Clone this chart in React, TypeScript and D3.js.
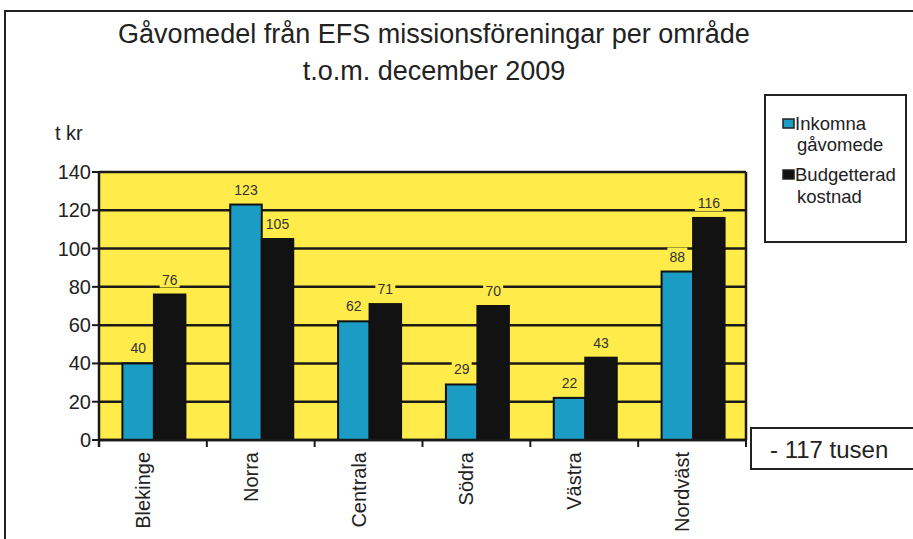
import React from "react";
import * as d3 from "d3";

const categories = ["Blekinge", "Norra", "Centrala", "Södra", "Västra", "Nordväst"];
const inkomna = [40, 123, 62, 29, 22, 88];
const budget = [76, 105, 71, 70, 43, 116];
const yTicks = [0, 20, 40, 60, 80, 100, 120, 140];

const W = 913;
const H = 539;
const plot = { left: 99, right: 746, top: 172, bottom: 440 };
const FONT = "'Liberation Sans', Arial, sans-serif";
const BLUE = "#1b9cc4";
const BLACK = "#121212";
const YELLOW = "#ffec4a";

export default function App() {
  const x = d3.scaleBand<string>().domain(categories).range([plot.left, plot.right]).paddingInner(0).paddingOuter(0);
  const y = d3.scaleLinear().domain([0, 140]).range([plot.bottom, plot.top]);
  const barW = 31.5;
  const series = [inkomna, budget];
  const colors = [BLUE, BLACK];

  return (
    <svg width={W} height={H} style={{ position: "absolute", left: 0, top: 0, background: "#fff" }}>
      <rect x={5} y={11} width={W + 10} height={H + 10} fill="none" stroke="#222" strokeWidth={2} />
      <text x={434} y={43} textAnchor="middle" fontFamily={FONT} fontSize={27} fill="#222">
        Gåvomedel från EFS missionsföreningar per område
      </text>
      <text x={434} y={80} textAnchor="middle" fontFamily={FONT} fontSize={27} fill="#222">
        t.o.m. december 2009
      </text>
      <text x={55} y={140} fontFamily={FONT} fontSize={20} fill="#222">t kr</text>

      <rect x={plot.left} y={plot.top} width={plot.right - plot.left} height={plot.bottom - plot.top} fill={YELLOW} />
      {yTicks.map((t) => (
        <g key={t}>
          <line x1={plot.left} x2={plot.right} y1={y(t)} y2={y(t)} stroke="#1a1a1a" strokeWidth={2.5} />
          <line x1={plot.left - 7} x2={plot.left} y1={y(t)} y2={y(t)} stroke="#1a1a1a" strokeWidth={2} />
          <text x={plot.left - 8} y={y(t) + 7} textAnchor="end" fontFamily={FONT} fontSize={20} fill="#222">{t}</text>
        </g>
      ))}
      {categories.map((c, i) => {
        const x0 = (x(c) as number) + (x.bandwidth() - 2 * barW) / 2 + 1;
        return (
          <g key={c}>
            {series.map((s, j) => {
              const bx = x0 + j * barW;
              const by = y(s[i]);
              const label = String(s[i]);
              const lw = label.length * 8 + 4;
              return (
                <g key={j}>
                  <rect x={bx} y={by} width={barW} height={plot.bottom - by} fill={colors[j]} stroke="#111" strokeWidth={2} />
                  <rect x={bx + barW / 2 - lw / 2} y={by - 24} width={lw} height={17} fill={YELLOW} />
                  <text x={bx + barW / 2} y={by - 10} textAnchor="middle" fontFamily={FONT} fontSize={14} fill="#333">{label}</text>
                </g>
              );
            })}
          </g>
        );
      })}
      {categories.map((c, i) => (
        <line key={"t" + i} x1={(x(c) as number) + x.bandwidth()} x2={(x(c) as number) + x.bandwidth()} y1={plot.bottom} y2={plot.bottom + 7} stroke="#1a1a1a" strokeWidth={2} />
      ))}
      <line x1={plot.left} x2={plot.left} y1={plot.top} y2={plot.bottom + 7} stroke="#1a1a1a" strokeWidth={2.5} />
      <line x1={plot.right} x2={plot.right} y1={plot.top} y2={plot.bottom} stroke="#1a1a1a" strokeWidth={2.5} />
      <line x1={plot.left} x2={plot.right} y1={plot.bottom} y2={plot.bottom} stroke="#1a1a1a" strokeWidth={2.5} />
      {categories.map((c) => {
        const cx = (x(c) as number) + x.bandwidth() / 2 - 10;
        return (
          <text key={"l" + c} transform={`translate(${cx + 7},${plot.bottom + 12}) rotate(-90)`} textAnchor="end" fontFamily={FONT} fontSize={20} fill="#222">{c}</text>
        );
      })}

      <rect x={765} y={95} width={141} height={147} fill="#fff" stroke="#222" strokeWidth={2} />
      <rect x={783} y={119} width={11} height={9} fill={BLUE} stroke="#222" strokeWidth={1.5} />
      <text fontFamily={FONT} fontSize={18.5} fill="#222">
        <tspan x={795} y={130}>Inkomna</tspan>
        <tspan x={797} y={151}>gåvomede</tspan>
      </text>
      <rect x={783} y={170} width={11} height={9} fill={BLACK} stroke="#222" strokeWidth={1.5} />
      <text fontFamily={FONT} fontSize={18.5} fill="#222">
        <tspan x={795} y={181}>Budgetterad</tspan>
        <tspan x={797} y={203}>kostnad</tspan>
      </text>

      <rect x={751} y={428} width={170} height={41} fill="#fff" stroke="#222" strokeWidth={2} />
      <text x={770} y={458} fontFamily={FONT} fontSize={24} fill="#222">- 117 tusen</text>
    </svg>
  );
}
